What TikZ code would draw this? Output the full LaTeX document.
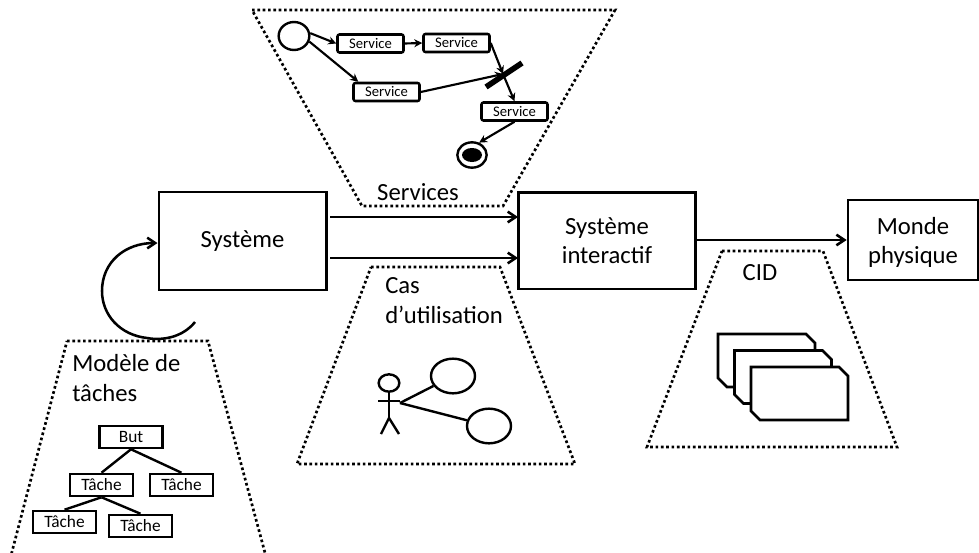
\documentclass[tikz,border=0pt]{standalone}
\usepackage{fontspec}
\setmainfont{Carlito}
\usetikzlibrary{arrows.meta,shapes.geometric}
\tikzset{
  mainbox/.style={draw,line width=2pt,fill=white,inner sep=0pt,align=center,font=\fontsize{18.5}{22}\selectfont},
  svc/.style={draw,line width=1.9pt,rounded corners=1.5pt,fill=white,inner sep=0pt,minimum width=49.5pt,minimum height=13.5pt,font=\fontsize{11}{12}\selectfont},
  taskbox/.style={draw,line width=1.9pt,fill=white,inner sep=0pt,minimum width=47.5pt,minimum height=16.5pt,font=\fontsize{13}{14}\selectfont},
  zone/.style={line width=2pt,dash pattern=on 2pt off 2pt},
  lbl/.style={inner sep=0pt,font=\fontsize{18.5}{22}\selectfont},
  flow/.style={line width=1.9pt,-{Straight Barb[length=6pt,width=8pt,line width=1.9pt]}},
  svcflow/.style={line width=1.6pt,-{Stealth[length=6pt,width=6pt]}},
  link/.style={line width=1.8pt},
  card/.style={draw,line width=1.9pt,fill=white},
  circ/.style={draw,line width=1.8pt,ellipse,inner sep=0pt},
}
\begin{document}
\begin{tikzpicture}[x=0.75pt,y=-0.75pt]
\clip (0,0) rectangle (979,553);
\useasboundingbox (0,0) rectangle (979,553);
\fill[white] (0,0) rectangle (979,553);
% zones
\draw[zone] (252,10) -- (615,10) -- (503,206) -- (362,206) -- cycle;
\draw[zone] (67,341) -- (208,341) -- (275,590) -- (2,590) -- cycle;
\draw[zone] (371,267) -- (500,267) -- (575,464) -- (297,464) -- cycle;
\draw[zone] (722,251) -- (823,251) -- (897,447) -- (647,447) -- cycle;
% main boxes
\node[mainbox,minimum width=125.5pt,minimum height=73.5pt] (sys) at (242.5,241) {Système};
\node[mainbox,minimum width=133pt,minimum height=72.5pt] (inter) at (607,240.5) {Système\\interactif};
\node[mainbox,minimum width=97.5pt,minimum height=60pt] (monde) at (913,240) {\rule{0pt}{16.5pt}Monde\\physique};
\coordinate (a1) at (330,217); \coordinate (a1e) at (518,217);
\coordinate (a2) at (330,258); \coordinate (a2e) at (518,258);
\draw[flow] (a1) -- (a1e);
\draw[flow] (a2) -- (a2e);
\draw[flow] (inter.east |- monde.west) -- (monde.west);
\coordinate (loop) at (195,322);
\draw[flow] (loop) .. controls (183,337) and (163,341) .. (147,338) .. controls (120,335) and (102,315) .. (102,291) .. controls (102,262) and (125,243) .. (sys.west |- 0,243);
% labels
\node[lbl] (lserv) at (418,192) {Services};
\node[lbl,anchor=west] (lmod) at (72,363) {Modèle de};
\node[lbl,anchor=west] (ltach) at (72,393) {tâches};
\node[lbl,anchor=west] (lcas) at (385,286) {Cas};
\node[lbl,anchor=west] (lutil) at (385,315) {d’utilisation};
\node[lbl] (lcid) at (760,273) {CID};
% services
\node[circ,minimum width=23pt,minimum height=21pt] (start) at (294,36) {};
\node[svc] (s1) at (370.5,43.5) {Service};
\node[svc] (s2) at (456.5,43) {Service};
\node[svc] (s3) at (386.5,92) {Service};
\node[svc] (s4) at (514.5,111.5) {Service};
\node[circ,minimum width=22pt,minimum height=19pt] (stop) at (472,155) {};
\node[fill=black,ellipse,minimum width=15pt,minimum height=10.5pt,inner sep=0pt] (stopin) at (472,155) {};
\coordinate (b1) at (486,87); \coordinate (b2) at (522,63); \coordinate (bm) at (503,74);
\draw[line width=4.2pt] (b1) -- (b2);
\draw[svcflow] (start.10) -- (s1.west);
\draw[svcflow] (s1.east) -- (s2.west);
\draw[svcflow] (start.-20) -- (s3.160);
\draw[svcflow] (s2.east) -- (bm);
\draw[svcflow] (s3.east) -- (bm);
\draw[svcflow] (bm) -- (s4.north);
\draw[svcflow] (s4.south) -- (stop.60);
% tasks
\node[taskbox] (but) at (131,437) {But};
\node[taskbox] (t1) at (101.5,485) {Tâche};
\node[taskbox] (t2) at (181.5,485) {Tâche};
\node[taskbox] (t3) at (64.5,522) {Tâche};
\node[taskbox] (t4) at (140.5,526) {Tâche};
\draw[link] (but.south) -- (t1.north);
\draw[link] (but.south) -- (t2.north);
\draw[link] (t1.south) -- (t3.north);
\draw[link] (t1.south) -- (t4.north);
% use case
\node[circ,minimum width=15.5pt,minimum height=13pt] (head) at (389,383) {};
\coordinate (neck) at (389,418);
\coordinate (armL) at (378,401); \coordinate (armR) at (400,401); \coordinate (hand) at (400,403);
\coordinate (legL) at (381,434); \coordinate (legR) at (399,434);
\draw[link] (head.south) -- (neck);
\draw[link] (armL) -- (armR);
\draw[link] (legL) -- (neck) -- (legR);
\node[circ,minimum width=33pt,minimum height=26pt] (uc1) at (453,376) {};
\node[circ,minimum width=33pt,minimum height=26pt] (uc2) at (489,426) {};
\draw[link] (hand) -- (uc1);
\draw[link] (hand) -- (uc2);
% CID cards
\foreach \dx/\dy in {0/0,16.5/16.5,33/33}{
  \draw[card] (718+\dx,334+\dy) -- (806+\dx,334+\dy) -- (815+\dx,343+\dy) -- (815+\dx,387+\dy) -- (727+\dx,387+\dy) -- (718+\dx,378+\dy) -- cycle;
}
\end{tikzpicture}
\end{document}
